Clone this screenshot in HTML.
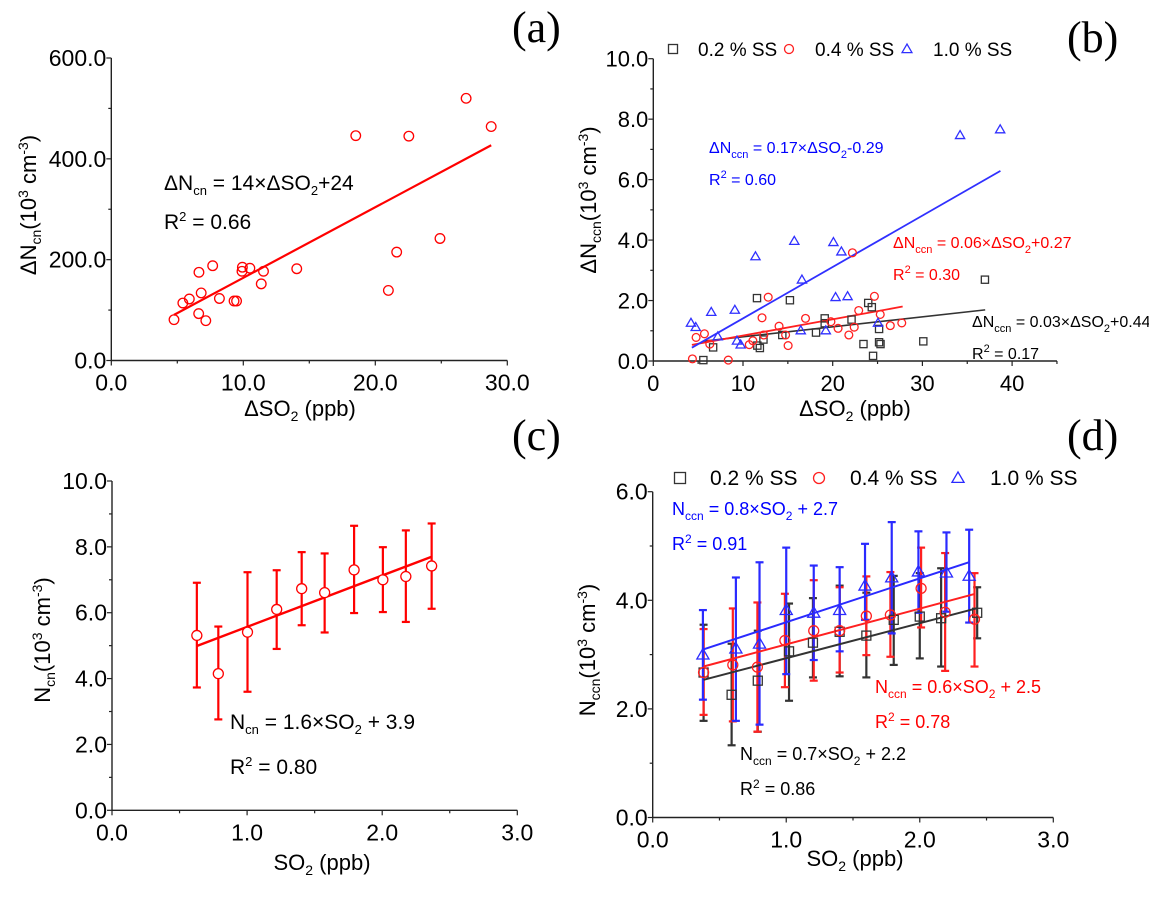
<!DOCTYPE html>
<html><head><meta charset="utf-8"><style>
html,body{margin:0;padding:0;background:#fff;}
svg{display:block;font-family:"Liberation Sans",Arial,sans-serif;}
.nar{font-family:"Liberation Sans Narrow","Liberation Sans",sans-serif;}
.pl{font-family:"Liberation Serif",serif;font-size:44px;}
</style></head><body>
<svg id="fig" width="1149" height="903" viewBox="0 0 1149 903" xmlns="http://www.w3.org/2000/svg">
<rect width="1149" height="903" fill="#fff"/>
<text class="pl" x="512" y="42">(a)</text>
<text class="pl" x="1067" y="52">(b)</text>
<text class="pl" x="512" y="450">(c)</text>
<text class="pl" x="1067" y="450">(d)</text>

<text x="300" y="416" font-size="22" text-anchor="middle">ΔSO<tspan dy="5" font-size="14">2</tspan><tspan dy="-5"> (ppb)</tspan></text>
<text transform="translate(36,205) rotate(-90)" font-size="22" text-anchor="middle">ΔN<tspan dy="5" font-size="14">cn</tspan><tspan dy="-5">(10</tspan><tspan dy="-8" font-size="14">3</tspan><tspan dy="8"> cm</tspan><tspan dy="-8" font-size="14">-3</tspan><tspan dy="8">)</tspan></text>
<text x="855" y="416" font-size="22" text-anchor="middle">ΔSO<tspan dy="5" font-size="14">2</tspan><tspan dy="-5"> (ppb)</tspan></text>
<text transform="translate(596,200) rotate(-90)" font-size="22" text-anchor="middle">ΔN<tspan dy="5" font-size="14">ccn</tspan><tspan dy="-5">(10</tspan><tspan dy="-8" font-size="14">3</tspan><tspan dy="8"> cm</tspan><tspan dy="-8" font-size="14">-3</tspan><tspan dy="8">)</tspan></text>
<text x="322" y="870" font-size="22" text-anchor="middle">SO<tspan dy="5" font-size="14">2</tspan><tspan dy="-5"> (ppb)</tspan></text>
<text transform="translate(50,640) rotate(-90)" font-size="22" text-anchor="middle">N<tspan dy="5" font-size="14">cn</tspan><tspan dy="-5">(10</tspan><tspan dy="-8" font-size="14">3</tspan><tspan dy="8"> cm</tspan><tspan dy="-8" font-size="14">-3</tspan><tspan dy="8">)</tspan></text>
<text x="855" y="866" font-size="22" text-anchor="middle">SO<tspan dy="5" font-size="14">2</tspan><tspan dy="-5"> (ppb)</tspan></text>
<text transform="translate(595,650) rotate(-90)" font-size="22" text-anchor="middle">N<tspan dy="5" font-size="14">ccn</tspan><tspan dy="-5">(10</tspan><tspan dy="-8" font-size="14">3</tspan><tspan dy="8"> cm</tspan><tspan dy="-8" font-size="14">-3</tspan><tspan dy="8">)</tspan></text>

<text x="164" y="190" font-size="21">ΔN<tspan dy="5" font-size="13">cn</tspan><tspan dy="-5"> = 14×ΔSO</tspan><tspan dy="5" font-size="13">2</tspan><tspan dy="-5">+24</tspan></text>
<text x="164" y="229" font-size="21">R<tspan dy="-8" font-size="13">2</tspan><tspan dy="8"> = 0.66</tspan></text>
<g class="nar" font-size="16">
<text x="709" y="153" fill="#0000ff">ΔN<tspan dy="5" font-size="11">ccn</tspan><tspan dy="-5"> = 0.17×ΔSO</tspan><tspan dy="5" font-size="11">2</tspan><tspan dy="-5">-0.29</tspan></text>
<text x="709" y="185" fill="#0000ff">R<tspan dy="-7" font-size="11">2</tspan><tspan dy="7"> = 0.60</tspan></text>
<text x="893" y="248" fill="#ff0000">ΔN<tspan dy="5" font-size="11">ccn</tspan><tspan dy="-5"> = 0.06×ΔSO</tspan><tspan dy="5" font-size="11">2</tspan><tspan dy="-5">+0.27</tspan></text>
<text x="893" y="280" fill="#ff0000">R<tspan dy="-7" font-size="11">2</tspan><tspan dy="7"> = 0.30</tspan></text>
<text x="972" y="327" fill="#000">ΔN<tspan dy="5" font-size="11">ccn</tspan><tspan dy="-5"> = 0.03×ΔSO</tspan><tspan dy="5" font-size="11">2</tspan><tspan dy="-5">+0.44</tspan></text>
<text x="972" y="359" fill="#000">R<tspan dy="-7" font-size="11">2</tspan><tspan dy="7"> = 0.17</tspan></text>
</g>
<text x="230" y="729" font-size="21">N<tspan dy="5" font-size="13">cn</tspan><tspan dy="-5"> = 1.6×SO</tspan><tspan dy="5" font-size="13">2</tspan><tspan dy="-5"> + 3.9</tspan></text>
<text x="230" y="774" font-size="21">R<tspan dy="-8" font-size="13">2</tspan><tspan dy="8"> = 0.80</tspan></text>
<g class="nar" font-size="18">
<text x="672" y="515" fill="#0000ff">N<tspan dy="5" font-size="12">ccn</tspan><tspan dy="-5"> = 0.8×SO</tspan><tspan dy="5" font-size="12">2</tspan><tspan dy="-5"> + 2.7</tspan></text>
<text x="672" y="550" fill="#0000ff">R<tspan dy="-7" font-size="12">2</tspan><tspan dy="7"> = 0.91</tspan></text>
<text x="875" y="693" fill="#ff0000">N<tspan dy="5" font-size="12">ccn</tspan><tspan dy="-5"> = 0.6×SO</tspan><tspan dy="5" font-size="12">2</tspan><tspan dy="-5"> + 2.5</tspan></text>
<text x="875" y="728" fill="#ff0000">R<tspan dy="-7" font-size="12">2</tspan><tspan dy="7"> = 0.78</tspan></text>
<text x="740" y="760" fill="#000">N<tspan dy="5" font-size="12">ccn</tspan><tspan dy="-5"> = 0.7×SO</tspan><tspan dy="5" font-size="12">2</tspan><tspan dy="-5"> + 2.2</tspan></text>
<text x="740" y="795" fill="#000">R<tspan dy="-7" font-size="12">2</tspan><tspan dy="7"> = 0.86</tspan></text>
</g>
</svg>
<script>
const aX = [4.75,5.42,5.91,6.62,6.64,6.81,7.16,7.68,8.19,9.30,9.49,9.90,9.93,10.5,11.36,11.53,14.05,18.52,20.99,21.62,22.54,24.9,26.88,28.78];
const aY = [81,114,122,93,175,134,79,188,123,118,118,177,185,183,152,177,182,446,139,215,445,242,520,464];
const aFit = [14, 24, 4.75, 28.78];

const bX02 = [5.58,6.67,11.56,11.6,11.88,12.28,14.38,15.23,18.14,19.11,19.11,22.1,23.43,23.96,24.36,24.5,25.17,25.17,25.33,30.1,36.97];
const bY02 = [0.03,0.45,2.08,0.51,0.43,0.71,0.86,2.01,0.94,1.41,1.25,1.37,0.56,1.92,1.78,0.17,1.06,0.62,0.56,0.65,2.69];
const bX04 = [4.36,4.77,5.7,6.3,8.36,10.7,11.1,12.12,12.32,12.81,14.02,14.75,15.03,16.97,19.8,20.6,21.8,22.2,22.4,22.9,24.65,25.3,26.42,27.7];
const bY04 = [0.07,0.78,0.9,0.56,0.03,0.54,0.67,1.43,0.86,2.11,1.15,0.86,0.51,1.41,1.3,1.08,0.86,3.58,1.12,1.67,2.14,1.54,1.17,1.26];
const bX10 = [4.2,4.73,6.46,7.19,9.09,9.33,9.74,11.39,15.72,16.44,16.57,19.23,20.08,20.32,20.97,21.66,25.05,34.2,38.67];
const bY10 = [1.26,1.12,1.62,0.81,1.69,0.67,0.54,3.46,3.97,1.01,2.69,1.01,3.93,2.11,3.62,2.14,1.26,7.47,7.66];
const bFit02 = [0.033, 0.47, 5.6, 37];
const bFit04 = [0.054, 0.30, 4.3, 27.8];
const bFit10 = [0.17, -0.29, 4.3, 38.7];

const cX = [0.628,0.787,1.003,1.219,1.404,1.574,1.792,2.005,2.175,2.366];
const cY = [5.31,4.15,5.41,6.10,6.73,6.61,7.30,7.00,7.10,7.42];
const cHi = [6.91,5.58,7.23,7.29,7.84,7.80,8.64,7.99,8.50,8.71];
const cLo = [3.73,2.76,3.60,4.90,5.62,5.40,5.99,6.02,5.72,6.12];
const cFit = [1.56, 4.01, 0.628, 2.366];

const dX02 = [0.381,0.591,0.787,1.021,1.20,1.40,1.60,1.805,2.0,2.16,2.43];
const dY02 = [2.67,2.26,2.52,3.06,3.22,3.42,3.35,3.64,3.70,3.67,3.77];
const dHi02 = [3.55,3.2,3.44,3.94,4.04,4.27,4.14,4.45,4.50,4.59,4.24];
const dLo02 = [1.78,1.33,1.58,2.15,2.58,2.60,2.58,2.81,2.93,2.78,3.30];
const dX04 = [0.381,0.60,0.784,0.99,1.206,1.40,1.60,1.78,2.01,2.19,2.41];
const dY04 = [2.67,2.81,2.77,3.26,3.44,3.44,3.71,3.73,4.22,3.78,3.65];
const dHi04 = [3.47,3.85,3.96,4.12,4.37,4.24,4.44,4.52,4.97,4.87,4.50];
const dLo04 = [1.89,1.77,1.58,2.40,2.52,2.67,2.99,2.96,3.50,2.70,2.78];
const dX10 = [0.376,0.623,0.80,1.0,1.206,1.40,1.59,1.79,1.99,2.2,2.37];
const dY10 = [3.0,3.11,3.2,3.82,3.77,3.82,4.27,4.42,4.53,4.51,4.45];
const dHi10 = [3.82,4.42,4.70,4.97,4.64,4.61,5.04,5.44,5.27,5.25,5.30];
const dLo10 = [2.17,1.78,1.71,2.64,2.90,3.06,3.64,3.39,3.77,3.79,3.59];
const dFit02 = [0.644, 2.29, 0.381, 2.43];
const dFit04 = [0.658, 2.53, 0.381, 2.415];
const dFit10 = [0.807, 2.79, 0.376, 2.37];

const aXTicks = [0,10,20,30], aXTickLabels = ["0.0","10.0","20.0","30.0"];
const aYTicks = [0,200,400,600], aYTickLabels = ["0.0","200.0","400.0","600.0"];
const bXTicks = [0,10,20,30,40], bXTickLabels = ["0","10","20","30","40"];
const bYTicks = [0,2,4,6,8,10], bYTickLabels = ["0.0","2.0","4.0","6.0","8.0","10.0"];
const cXTicks = [0,1,2,3], cXTickLabels = ["0.0","1.0","2.0","3.0"];
const cYTicks = [0,2,4,6,8,10], cYTickLabels = ["0.0","2.0","4.0","6.0","8.0","10.0"];
const dXTicks = [0,1,2,3], dXTickLabels = ["0.0","1.0","2.0","3.0"];
const dYTicks = [0,2,4,6], dYTickLabels = ["0.0","2.0","4.0","6.0"];

const NS = "http://www.w3.org/2000/svg";
const svg = document.getElementById("fig");
function mk(tag, attrs, parent){
  const e = document.createElementNS(NS, tag);
  for (const k in attrs) e.setAttribute(k, attrs[k]);
  (parent||svg).appendChild(e);
  return e;
}
function scale(d0,d1,p0,p1){ return v => p0 + (v-d0)/(d1-d0)*(p1-p0); }

function axes(id, sx, sy, xmin, xmax, ymin, ymax, xt, xtl, yt, ytl, xminor, yminor, fs, cls){
  const g = mk("g", {});
  
  
  const X0 = sx(xmin), X1 = sx(xmax), Y0 = sy(ymin), Y1 = sy(ymax);
  const xl = mk("line",{x1:X0,y1:Y0,x2:X1,y2:Y0,stroke:"#222","stroke-width":1.4},g);
  
  
  const yl = mk("line",{x1:X0,y1:Y0,x2:X0,y2:Y1,stroke:"#222","stroke-width":1.4},g);
  
  
  for (let v = xmin; v <= xmax + 1e-9; v += xminor){
    const isMaj = xt.some(t => Math.abs(t-v) < 1e-9);
    mk("line",{x1:sx(v),y1:Y0,x2:sx(v),y2:Y0+(isMaj?5:3),stroke:"#222","stroke-width":1.2},g);
  }
  for (let v = ymin; v <= ymax + 1e-9; v += yminor){
    const isMaj = yt.some(t => Math.abs(t-v) < 1e-9);
    mk("line",{x1:X0,y1:sy(v),x2:X0-(isMaj?5:3),y2:sy(v),stroke:"#222","stroke-width":1.2},g);
  }
  xt.forEach((t,i) => {
    const tx = mk("text",{x:sx(t),y:Y0+30,"font-size":fs,"text-anchor":"middle",class:cls},g);
    
    
    tx.textContent = xtl[i];
  });
  yt.forEach((t,i) => {
    const tx = mk("text",{x:X0-5,y:sy(t)+8,"font-size":fs,"text-anchor":"end",class:cls},g);
    
    
    tx.textContent = ytl[i];
  });
}

function marker(type, x, y, color, r, parent){
  let e;
  if (type === "circle") e = mk("circle",{cx:x,cy:y,r:r,fill:"none",stroke:color,"stroke-width":1.3},parent);
  else if (type === "square") e = mk("rect",{x:x-r,y:y-r,width:2*r,height:2*r,fill:"none",stroke:color,"stroke-width":1.3},parent);
  else e = mk("polygon",{points:`${x},${y-r*1.1} ${x-r*1.1},${y+r*0.8} ${x+r*1.1},${y+r*0.8}`,fill:"none",stroke:color,"stroke-width":1.3},parent);
  return e;
}
function points(id, xs, ys, sx, sy, type, color, r){
  const g = mk("g",{});
  
  
  xs.forEach((x,i) => {
    const m = marker(type, sx(x), sy(ys[i]), color, r, g);
    
    
  });
}
function fitLine(id, fit, sx, sy, color, w){
  const l = mk("line",{x1:sx(fit[2]),y1:sy(fit[0]*fit[2]+fit[1]),x2:sx(fit[3]),y2:sy(fit[0]*fit[3]+fit[1]),stroke:color,"stroke-width":w});
  
  
}
function errbars(id, xs, lo, hi, sx, sy, color, w, cap){
  const g = mk("g",{});
  
  
  xs.forEach((x,i) => {
    const px = sx(x);
    mk("line",{x1:px,y1:sy(lo[i]),x2:px,y2:sy(hi[i]),stroke:color,"stroke-width":w},g);
    mk("line",{x1:px-cap,y1:sy(lo[i]),x2:px+cap,y2:sy(lo[i]),stroke:color,"stroke-width":w},g);
    mk("line",{x1:px-cap,y1:sy(hi[i]),x2:px+cap,y2:sy(hi[i]),stroke:color,"stroke-width":w},g);
  });
}

const axA = scale(0,30,111.3,507.3), ayA = scale(0,600,360.5,58);
axes("a", axA, ayA, 0,30,0,600, aXTicks,aXTickLabels,aYTicks,aYTickLabels, 5,100, 23, "");
fitLine("a", aFit, axA, ayA, "#ff0000", 2.2);
points("a", aX, aY, axA, ayA, "circle", "#ff0000", 4.8);

const bxS = scale(0,10,653.3,743), byS = scale(0,10,361,58.7);
axes("b", bxS, byS, 0,45,0,10, bXTicks,bXTickLabels,bYTicks,bYTickLabels, 5,1, 22, "nar");
fitLine("b-0.2", bFit02, bxS, byS, "#333", 1.6);
fitLine("b-0.4", bFit04, bxS, byS, "#ff2020", 1.8);
fitLine("b-1.0", bFit10, bxS, byS, "#3030ff", 1.8);
points("b-0.2", bX02, bY02, bxS, byS, "square", "#333", 3.6);
points("b-0.4", bX04, bY04, bxS, byS, "circle", "#ff2020", 3.9);
points("b-1.0", bX10, bY10, bxS, byS, "triangle", "#3030ff", 4.2);

const cxS = scale(0,3,112,517.3), cyS = scale(0,10,810.3,481);
axes("c", cxS, cyS, 0,3,0,10, cXTicks,cXTickLabels,cYTicks,cYTickLabels, 0.5,1, 23, "");
errbars("c", cX, cLo, cHi, cxS, cyS, "#ff0000", 2.2, 4);
fitLine("c", cFit, cxS, cyS, "#ff0000", 2.4);
const gcw = mk("g",{});


cX.forEach((x,i)=>{ mk("circle",{cx:cxS(x),cy:cyS(cY[i]),r:5,fill:"#fff"},gcw); });
points("c", cX, cY, cxS, cyS, "circle", "#ff0000", 5);

const dxS = scale(0,3,652.7,1053.3), dyS = scale(0,6,817.5,491.7);
axes("d", dxS, dyS, 0,3,0,6, dXTicks,dXTickLabels,dYTicks,dYTickLabels, 0.5,1, 23, "");
errbars("d-0.2", dX02, dLo02, dHi02, dxS, dyS, "#333", 2.2, 4);
errbars("d-0.4", dX04, dLo04, dHi04, dxS, dyS, "#ff2020", 2.2, 4);
errbars("d-1.0", dX10, dLo10, dHi10, dxS, dyS, "#2a2aff", 2.2, 4);
fitLine("d-0.2", dFit02, dxS, dyS, "#333", 2);
fitLine("d-0.4", dFit04, dxS, dyS, "#ff2020", 2);
fitLine("d-1.0", dFit10, dxS, dyS, "#2a2aff", 2);
points("d-0.2", dX02, dY02, dxS, dyS, "square", "#333", 4.5);
points("d-0.4", dX04, dY04, dxS, dyS, "circle", "#ff2020", 5);
points("d-1.0", dX10, dY10, dxS, dyS, "triangle", "#2a2aff", 5.5);

function legend(id, y, items, fs, cls, r){
  const g = mk("g",{});
  
  
  items.forEach(it => {
    const m = marker(it[1], it[0], y, it[2], r, g);
    
    
    const t = mk("text",{x:it[3],y:y+7,"font-size":fs,class:cls},g);
    
    
    t.textContent = it[4];
  });
}
legend("b", 49, [[673,"square","#333",698,"0.2 % SS"],[789,"circle","#ff2020",815,"0.4 % SS"],[907,"triangle","#3030ff",933,"1.0 % SS"]], 19, "nar", 4.5);
legend("d", 478, [[680,"square","#333",710,"0.2 % SS"],[819,"circle","#ff2020",850,"0.4 % SS"],[958,"triangle","#2a2aff",990,"1.0 % SS"]], 21, "", 5.5);
</script>
</body></html>
